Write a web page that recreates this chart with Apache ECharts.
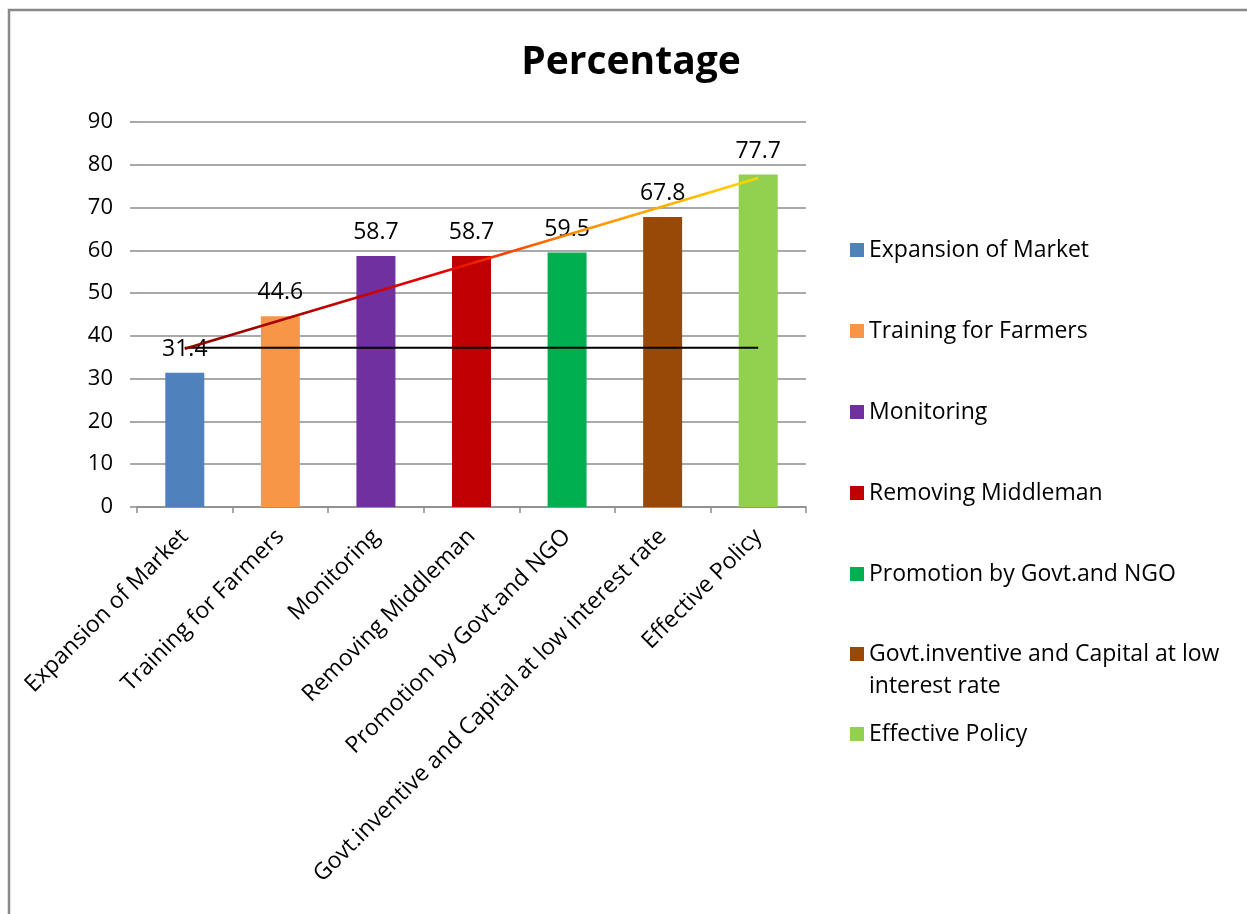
<!DOCTYPE html>
<html>
<head>
<meta charset="utf-8">
<script src="https://cdn.jsdelivr.net/npm/echarts@6/dist/echarts.min.js"></script>
<style>
  html, body { margin: 0; padding: 0; background: #fff; }
  #chart { width: 1247px; height: 914px; }
</style>
</head>
<body>
<div id="chart"></div>
<script>
// Categories and their percentages
const categories = [
  'Expansion of Market',
  'Training for Farmers',
  'Monitoring',
  'Removing Middleman',
  'Promotion by Govt.and NGO',
  'Govt.inventive and Capital at low interest rate',
  'Effective Policy'
];
const percentages = [31.4, 44.6, 58.7, 58.7, 59.5, 67.8, 77.7];
const barColors = ['#4f81bd', '#f79646', '#7030a0', '#c00000', '#00b050', '#984807', '#92d050'];

// Linear trend line end points (first and last category)
const trendEnds = [37.0, 76.9];
// Horizontal reference level
const referenceLevel = 37.2;

const yTicks = { min: 0, max: 90, interval: 10 };

const FONT = '"Open Sans", "Noto Sans", sans-serif';
const TEXT_SIZE = 23;

const chart = echarts.init(document.getElementById('chart'));

const barSeries = categories.map((name, i) => ({
  name: name,
  type: 'bar',
  barGap: '-100%',
  barWidth: 39,
  itemStyle: { color: barColors[i] },
  label: {
    show: true,
    position: 'top',
    distance: 12,
    fontFamily: FONT,
    fontSize: TEXT_SIZE,
    color: '#000',
    formatter: p => p.value.toFixed(1)
  },
  data: categories.map((c, j) => (j === i ? percentages[i] : '-')),
  z: 2
}));

const last = categories.length - 1;

const legendText = { fontFamily: FONT, fontSize: TEXT_SIZE, color: '#000', lineHeight: 32 };

const option = {
  animation: false,
  backgroundColor: '#fff',
  title: {
    text: 'Percentage',
    left: 626,
    textAlign: 'center',
    top: 38,
    textStyle: { fontFamily: FONT, fontSize: 39, fontWeight: 'bold', color: '#000' }
  },
  graphic: [{
    type: 'rect',
    silent: true,
    z: -10,
    shape: { x: 9, y: 10, width: 1300, height: 1000 },
    style: { fill: null, stroke: '#898989', lineWidth: 2.5 }
  }],
  grid: { left: 137, right: 441, top: 122, bottom: 407, containLabel: false },
  legend: [
    {
      orient: 'vertical',
      left: 850,
      top: 234,
      padding: 0,
      itemWidth: 14,
      itemHeight: 14,
      itemGap: 49,
      icon: 'rect',
      data: categories.slice(0, 5),
      textStyle: legendText
    },
    {
      orient: 'vertical',
      left: 850,
      top: 606,
      padding: 0,
      itemWidth: 14,
      itemHeight: 14,
      icon: 'rect',
      data: [categories[5]],
      formatter: () => '\nGovt.inventive and Capital at low\ninterest rate',
      textStyle: legendText
    },
    {
      orient: 'vertical',
      left: 850,
      top: 718,
      padding: 0,
      itemWidth: 14,
      itemHeight: 14,
      icon: 'rect',
      data: [categories[6]],
      textStyle: legendText
    }
  ],
  xAxis: {
    type: 'category',
    data: categories,
    boundaryGap: true,
    axisLine: { lineStyle: { color: '#8c8c8c', width: 1.5 } },
    axisTick: { show: true, length: 6, alignWithLabel: false, lineStyle: { color: '#8c8c8c', width: 1.5 } },
    axisLabel: {
      rotate: 45,
      interval: 0,
      margin: 26,
      fontFamily: FONT,
      fontSize: TEXT_SIZE,
      color: '#000'
    }
  },
  yAxis: {
    type: 'value',
    min: yTicks.min,
    max: yTicks.max,
    interval: yTicks.interval,
    axisLine: { show: false },
    axisTick: { show: true, length: 7, lineStyle: { color: '#8c8c8c', width: 1.5 } },
    axisLabel: { margin: 24, fontFamily: FONT, fontSize: 22, color: '#000' },
    splitLine: { lineStyle: { color: '#8c8c8c', width: 1.5 } }
  },
  series: barSeries.concat([
    {
      name: 'Trend',
      type: 'line',
      symbol: 'none',
      silent: true,
      z: 5,
      data: [[0, trendEnds[0]], [last, trendEnds[1]]],
      lineStyle: {
        width: 2.5,
        color: new echarts.graphic.LinearGradient(0, 0, 1, 0, [
          { offset: 0, color: '#8b0000' },
          { offset: 0.45, color: '#e60000' },
          { offset: 0.68, color: '#ff8c00' },
          { offset: 1, color: '#ffd700' }
        ])
      }
    },
    {
      name: 'Level',
      type: 'line',
      symbol: 'none',
      silent: true,
      z: 4,
      data: [[0, referenceLevel], [last, referenceLevel]],
      lineStyle: { width: 2, color: '#000' }
    }
  ])
};

chart.setOption(option);
</script>
</body>
</html>
